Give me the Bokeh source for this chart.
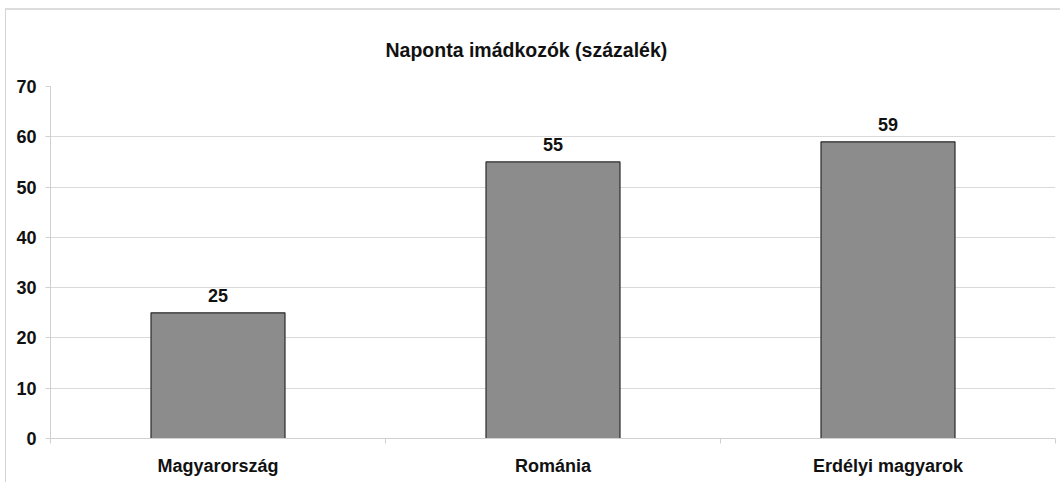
from bokeh.plotting import figure
from bokeh.models import ColumnDataSource, FixedTicker, LabelSet, Range1d
from bokeh.core.properties import value
from bokeh.embed import file_html
from bokeh.resources import INLINE

categories = ["Magyarország", "Románia", "Erdélyi magyarok"]
values = [25, 55, 59]
y_ticks = [0, 10, 20, 30, 40, 50, 60, 70]
title = "Naponta imádkozók (százalék)"

FONT = "Liberation Sans"
n = len(categories)
xs = [i + 0.5 for i in range(n)]
src = ColumnDataSource(dict(x=xs, top=values, lab=[str(v) for v in values]))

p = figure(width=1055, height=474, output_backend="svg", toolbar_location=None,
           x_range=Range1d(0, n), y_range=Range1d(0, 70),
           min_border_left=44, min_border_right=6, min_border_top=76, min_border_bottom=46)
p.styles = {"margin-left": "5px", "margin-top": "8px",
            "border-left": "1px solid #d4d4d4", "border-top": "2px solid #dcdcdc"}
p.title.text = title
p.title.align = "left"
p.title.text_font = FONT
p.title.text_font_size = "19.5px"
p.title.text_font_style = "bold"
p.title.text_color = "#111111"
p.title.offset = 335
p.title.standoff = 52
p.outline_line_color = None
p.background_fill_color = "white"
p.border_fill_color = "white"

p.vbar(x="x", top="top", width=0.4, bottom=0, source=src,
       fill_color="#8c8c8c", line_color="#2b2b2b", line_width=1.2)

labels = LabelSet(x="x", y="top", text="lab", source=src, y_offset=11,
                  text_align="center", text_baseline="bottom",
                  text_font=value(FONT), text_font_size=value("18px"),
                  text_font_style="bold", text_color="#111111")
p.add_layout(labels)

# y axis
p.yaxis.ticker = FixedTicker(ticks=y_ticks)
p.yaxis.axis_line_color = "#d0d0d0"
p.yaxis.major_tick_line_color = "#d0d0d0"
p.yaxis.major_tick_out = 5
p.yaxis.major_tick_in = 0
p.yaxis.minor_tick_line_color = None
p.yaxis.major_label_standoff = 9
p.yaxis.major_label_text_font = FONT
p.yaxis.major_label_text_font_size = "18px"
p.yaxis.major_label_text_font_style = "bold"
p.yaxis.major_label_text_color = "#111111"

# x axis
p.xaxis.ticker = FixedTicker(ticks=xs, minor_ticks=list(range(n + 1)))
p.xaxis.major_label_overrides = {x: c for x, c in zip(xs, categories)}
p.xaxis.axis_line_color = "#d0d0d0"
p.xaxis.major_tick_line_color = None
p.xaxis.major_tick_out = 0
p.xaxis.major_tick_in = 0
p.xaxis.minor_tick_line_color = "#d0d0d0"
p.xaxis.minor_tick_out = 5
p.xaxis.minor_tick_in = 0
p.xaxis.major_label_standoff = 12
p.xaxis.major_label_text_font = FONT
p.xaxis.major_label_text_font_size = "18px"
p.xaxis.major_label_text_font_style = "bold"
p.xaxis.major_label_text_color = "#111111"

p.xgrid.grid_line_color = None
p.ygrid.ticker = FixedTicker(ticks=y_ticks)
p.ygrid.grid_line_color = "#d9d9d9"
p.ygrid.grid_line_width = 1

open("out.html", "w").write(file_html(p, INLINE))
